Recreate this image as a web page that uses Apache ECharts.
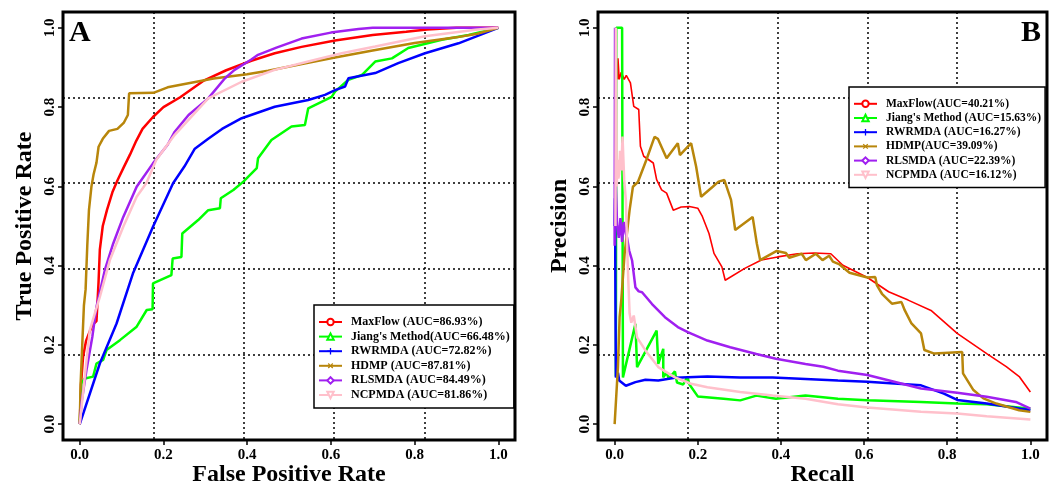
<!DOCTYPE html>
<html>
<head>
<meta charset="utf-8">
<script src="https://cdn.jsdelivr.net/npm/echarts@6/dist/echarts.min.js"></script>
<style>
  html, body { margin: 0; padding: 0; background: #fff; }
  #chart { width: 1063px; height: 485px; }
</style>
</head>
<body>
<div id="chart"></div>
<script>
// tick labels (both panels, both axes)
const tickValues = [0, 0.2, 0.4, 0.6, 0.8, 1.0]

// ROC curves, panel A  [FPR, TPR]
const rocMaxFlow = [[0, 0], [0.003, 0.1], [0.008, 0.17], [0.015, 0.21], [0.03, 0.25], [0.04, 0.26], [0.042, 0.3], [0.045, 0.36], [0.048, 0.44], [0.055, 0.5], [0.065, 0.54], [0.078, 0.585], [0.09, 0.615], [0.105, 0.648], [0.12, 0.68], [0.135, 0.715], [0.15, 0.745], [0.175, 0.775], [0.2, 0.8], [0.24, 0.825], [0.295, 0.866], [0.35, 0.893], [0.41, 0.917], [0.466, 0.936], [0.53, 0.952], [0.61, 0.968], [0.7, 0.982], [0.78, 0.99], [0.83, 0.996], [0.9, 1], [1, 1]]
const rocJiang = [[0, 0], [0.004, 0.103], [0.012, 0.115], [0.032, 0.12], [0.04, 0.153], [0.056, 0.162], [0.064, 0.187], [0.096, 0.212], [0.136, 0.246], [0.16, 0.288], [0.174, 0.29], [0.175, 0.355], [0.219, 0.376], [0.222, 0.418], [0.243, 0.422], [0.245, 0.481], [0.283, 0.515], [0.307, 0.54], [0.335, 0.545], [0.337, 0.57], [0.367, 0.591], [0.391, 0.612], [0.423, 0.646], [0.426, 0.671], [0.458, 0.717], [0.506, 0.751], [0.538, 0.755], [0.546, 0.797], [0.602, 0.826], [0.61, 0.839], [0.642, 0.869], [0.674, 0.881], [0.706, 0.915], [0.746, 0.923], [0.785, 0.949], [0.865, 0.97], [0.929, 0.982], [1, 1]]
const rocRWRMDA = [[0, 0], [0.048, 0.153], [0.088, 0.254], [0.127, 0.38], [0.175, 0.498], [0.223, 0.608], [0.25, 0.65], [0.275, 0.695], [0.307, 0.72], [0.34, 0.745], [0.387, 0.772], [0.466, 0.801], [0.546, 0.818], [0.586, 0.831], [0.61, 0.843], [0.634, 0.852], [0.642, 0.873], [0.706, 0.886], [0.761, 0.911], [0.825, 0.936], [0.905, 0.961], [1, 1]]
const rocHDMP = [[0, 0], [0.002, 0.1], [0.006, 0.2], [0.01, 0.3], [0.014, 0.34], [0.018, 0.45], [0.022, 0.54], [0.028, 0.6], [0.033, 0.63], [0.04, 0.66], [0.045, 0.7], [0.055, 0.72], [0.07, 0.74], [0.09, 0.745], [0.105, 0.76], [0.115, 0.78], [0.118, 0.835], [0.176, 0.836], [0.21, 0.85], [0.26, 0.86], [0.32, 0.872], [0.4, 0.883], [0.45, 0.892], [0.546, 0.912], [0.61, 0.925], [0.7, 0.943], [0.8, 0.962], [0.9, 0.976], [0.95, 0.985], [1, 1]]
const rocRLSMDA = [[0, 0], [0.005, 0.06], [0.016, 0.136], [0.03, 0.22], [0.04, 0.296], [0.06, 0.389], [0.08, 0.456], [0.104, 0.523], [0.136, 0.599], [0.175, 0.658], [0.21, 0.705], [0.227, 0.738], [0.26, 0.78], [0.307, 0.822], [0.347, 0.873], [0.37, 0.894], [0.41, 0.92], [0.426, 0.932], [0.47, 0.95], [0.53, 0.973], [0.6, 0.988], [0.666, 0.997], [0.7, 1], [1, 1]]
const rocNCPMDA = [[0, 0], [0.01, 0.1], [0.024, 0.237], [0.048, 0.321], [0.072, 0.414], [0.104, 0.498], [0.136, 0.574], [0.159, 0.608], [0.183, 0.667], [0.227, 0.73], [0.307, 0.822], [0.387, 0.864], [0.466, 0.894], [0.546, 0.915], [0.626, 0.936], [0.706, 0.953], [0.825, 0.979], [0.945, 0.995], [1, 1]]

// PR curves, panel B  [recall, precision]
const prMaxFlow = [[0.007, 0.87], [0.008, 0.923], [0.011, 0.87], [0.016, 0.888], [0.023, 0.87], [0.028, 0.88], [0.038, 0.861], [0.046, 0.802], [0.058, 0.794], [0.062, 0.701], [0.07, 0.676], [0.093, 0.659], [0.101, 0.617], [0.113, 0.591], [0.125, 0.583], [0.141, 0.54], [0.16, 0.548], [0.18, 0.549], [0.2, 0.545], [0.211, 0.524], [0.227, 0.481], [0.239, 0.431], [0.258, 0.397], [0.266, 0.363], [0.313, 0.393], [0.353, 0.414], [0.392, 0.422], [0.44, 0.43], [0.48, 0.432], [0.52, 0.43], [0.549, 0.401], [0.608, 0.37], [0.659, 0.334], [0.706, 0.313], [0.761, 0.287], [0.824, 0.229], [0.895, 0.178], [0.942, 0.145], [0.974, 0.119], [1, 0.081]]
const prJiang = [[0.003, 0.12], [0.004, 1], [0.018, 1], [0.02, 0.118], [0.05, 0.253], [0.054, 0.144], [0.101, 0.236], [0.105, 0.152], [0.117, 0.19], [0.117, 0.118], [0.125, 0.13], [0.13, 0.115], [0.145, 0.133], [0.15, 0.105], [0.165, 0.1], [0.175, 0.12], [0.18, 0.1], [0.2, 0.07], [0.262, 0.064], [0.302, 0.06], [0.341, 0.072], [0.388, 0.064], [0.459, 0.072], [0.537, 0.064], [0.608, 0.06], [0.737, 0.056], [0.824, 0.052], [0.895, 0.05], [1, 0.039]]
const prRWRMDA = [[0, 0.5], [0.001, 0.57], [0.002, 0.3], [0.003, 0.118], [0.008, 0.13], [0.011, 0.11], [0.027, 0.097], [0.05, 0.106], [0.074, 0.112], [0.105, 0.11], [0.145, 0.117], [0.223, 0.12], [0.302, 0.118], [0.38, 0.118], [0.459, 0.114], [0.537, 0.11], [0.608, 0.107], [0.737, 0.098], [0.792, 0.077], [0.824, 0.061], [0.895, 0.052], [1, 0.035]]
const prHDMP = [[0, 0], [0.008, 0.145], [0.012, 0.271], [0.016, 0.313], [0.024, 0.43], [0.036, 0.54], [0.044, 0.599], [0.056, 0.611], [0.076, 0.666], [0.096, 0.725], [0.104, 0.72], [0.125, 0.671], [0.152, 0.709], [0.157, 0.679], [0.184, 0.709], [0.196, 0.65], [0.208, 0.574], [0.236, 0.599], [0.25, 0.612], [0.264, 0.616], [0.28, 0.566], [0.29, 0.49], [0.332, 0.523], [0.342, 0.456], [0.35, 0.414], [0.39, 0.437], [0.412, 0.432], [0.42, 0.42], [0.45, 0.43], [0.46, 0.414], [0.484, 0.43], [0.5, 0.414], [0.516, 0.425], [0.525, 0.41], [0.541, 0.403], [0.565, 0.382], [0.608, 0.37], [0.627, 0.371], [0.631, 0.35], [0.643, 0.329], [0.667, 0.304], [0.69, 0.308], [0.698, 0.287], [0.714, 0.254], [0.737, 0.229], [0.745, 0.187], [0.769, 0.178], [0.836, 0.182], [0.838, 0.128], [0.863, 0.086], [0.887, 0.065], [0.918, 0.052], [0.973, 0.035], [1, 0.031]]
const prRLSMDA = [[0, 0.45], [0.001, 1], [0.003, 0.6], [0.006, 0.5], [0.01, 0.47], [0.014, 0.52], [0.018, 0.46], [0.022, 0.51], [0.027, 0.48], [0.03, 0.47], [0.035, 0.438], [0.042, 0.413], [0.05, 0.345], [0.058, 0.335], [0.066, 0.333], [0.09, 0.303], [0.121, 0.27], [0.152, 0.245], [0.176, 0.232], [0.223, 0.211], [0.278, 0.194], [0.341, 0.177], [0.388, 0.165], [0.459, 0.152], [0.502, 0.145], [0.537, 0.135], [0.608, 0.124], [0.737, 0.09], [0.824, 0.079], [0.895, 0.069], [0.965, 0.056], [1, 0.039]]
const prNCPMDA = [[0.002, 0.5], [0.003, 1], [0.005, 0.6], [0.007, 0.667], [0.009, 0.62], [0.011, 0.633], [0.013, 0.69], [0.016, 0.64], [0.019, 0.726], [0.023, 0.617], [0.027, 0.566], [0.03, 0.45], [0.033, 0.36], [0.036, 0.28], [0.04, 0.256], [0.046, 0.274], [0.054, 0.219], [0.074, 0.186], [0.105, 0.144], [0.145, 0.118], [0.184, 0.102], [0.223, 0.093], [0.302, 0.081], [0.38, 0.072], [0.459, 0.064], [0.537, 0.05], [0.608, 0.042], [0.737, 0.031], [0.824, 0.027], [0.895, 0.02], [1, 0.012]]

const namesA = ['MaxFlow (AUC=86.93%)', "Jiang's Method(AUC=66.48%)", 'RWRMDA (AUC=72.82%)', 'HDMP (AUC=87.81%)', 'RLSMDA (AUC=84.49%)', 'NCPMDA (AUC=81.86%)']
const namesB = ['MaxFlow(AUC=40.21%)', "Jiang's Method (AUC=15.63%)", 'RWRMDA (AUC=16.27%)', 'HDMP(AUC=39.09%)', 'RLSMDA (AUC=22.39%)', 'NCPMDA (AUC=16.12%)']

const font = 'Liberation Serif'
const colors = ['#ff0000', '#00ff00', '#0000ff', '#b8860b', '#a020f0', '#ffc0cb']
const plusPath = 'path://M4,0L6,0L6,4L10,4L10,6L6,6L6,10L4,10L4,6L0,6L0,4L4,4Z'
const symbols = ['emptyCircle', 'emptyTriangle', plusPath, plusPath, 'emptyDiamond', 'emptyTriangle']
const symbolRotates = [0, 0, 0, 45, 0, 180]

const chart = echarts.init(document.getElementById('chart'))

function mainAxis (gridIndex, dim, name, nameGap) {
  return {
    type: 'value',
    gridIndex: gridIndex,
    min: -0.04,
    max: 1.04,
    name: name,
    nameLocation: 'middle',
    nameGap: nameGap,
    nameMoveOverlap: false,
    nameTextStyle: { fontFamily: font, fontWeight: 'bold', fontSize: 24, color: '#000' },
    axisLine: { show: false, onZero: false },
    axisTick: { show: true, length: 5, customValues: tickValues, lineStyle: { color: '#000', width: 1.5 } },
    axisLabel: {
      customValues: tickValues,
      rotate: dim === 'y' ? 90 : 0,
      margin: dim === 'y' ? 5 : 8,
      fontFamily: font,
      fontWeight: 'bold',
      fontSize: 15,
      color: '#000',
      formatter: v => v.toFixed(1)
    },
    splitLine: { show: false }
  }
}

// helper axis only for the dotted grid (5 equal divisions of the plot area)
function gridAxis (gridIndex) {
  return {
    type: 'value',
    gridIndex: gridIndex,
    min: 0,
    max: 5,
    interval: 1,
    axisLine: { show: false, onZero: false },
    axisTick: { show: false },
    axisLabel: { show: false },
    splitLine: { show: true, lineStyle: { color: '#000', width: 1.5, type: [2, 3] } }
  }
}

function makeSeries (names, datas, xIdx, yIdx, widths) {
  return datas.map((d, i) => ({
    name: names[i],
    type: 'line',
    xAxisIndex: xIdx,
    yAxisIndex: yIdx,
    data: d,
    showSymbol: false,
    symbol: symbols[i],
    symbolRotate: symbolRotates[i],
    symbolSize: 7,
    color: colors[i],
    lineStyle: { width: widths[i], color: colors[i] },
    animation: false,
    silent: true
  }))
}

function makeLegend (names, left, top, fontSize, lineHeight) {
  return {
    data: names,
    orient: 'vertical',
    left: left,
    top: top,
    padding: [10, 4, 6, 4],
    itemWidth: 23,
    itemHeight: 8,
    itemGap: 0.6,
    borderColor: '#000',
    borderWidth: 1.5,
    backgroundColor: '#fff',
    selectedMode: false,
    textStyle: { fontFamily: font, fontWeight: 'bold', fontSize: fontSize, lineHeight: lineHeight, color: '#000', padding: [0, 0, 0, 4] }
  }
}

const seriesA = makeSeries(namesA, [rocMaxFlow, rocJiang, rocRWRMDA, rocHDMP, rocRLSMDA, rocNCPMDA], 0, 0, [2.5, 2.5, 2.5, 2.5, 2.5, 2.5])
const seriesB = makeSeries(namesB, [prMaxFlow, prJiang, prRWRMDA, prHDMP, prRLSMDA, prNCPMDA], 2, 2, [1.6, 2.5, 2.5, 2.5, 2.5, 2.5])

const option = {
  backgroundColor: '#fff',
  animation: false,
  title: [
    { text: 'A', left: 69, top: 18, padding: 0, textStyle: { fontFamily: font, fontWeight: 'bold', fontSize: 30, color: '#000' } },
    { text: 'B', right: 22, top: 18, padding: 0, textStyle: { fontFamily: font, fontWeight: 'bold', fontSize: 30, color: '#000' } }
  ],
  grid: [
    { left: 63, top: 12, width: 452, height: 428, outerBoundsMode: 'none', show: true, borderColor: '#000', borderWidth: 3, backgroundColor: 'transparent' },
    { left: 598, top: 12, width: 449, height: 428, outerBoundsMode: 'none', show: true, borderColor: '#000', borderWidth: 3, backgroundColor: 'transparent' }
  ],
  xAxis: [
    mainAxis(0, 'x', 'False Positive Rate', 23),
    gridAxis(0),
    mainAxis(1, 'x', 'Recall', 23),
    gridAxis(1)
  ],
  yAxis: [
    mainAxis(0, 'y', 'True Positive Rate', 26),
    gridAxis(0),
    mainAxis(1, 'y', 'Precision', 26),
    gridAxis(1)
  ],
  legend: [
    makeLegend(namesA, 314, 305, 12, 14),
    makeLegend(namesB, 849, 87, 11.5, 13.6)
  ],
  series: seriesA.concat(seriesB)
}

chart.setOption(option)
</script>
</body>
</html>
